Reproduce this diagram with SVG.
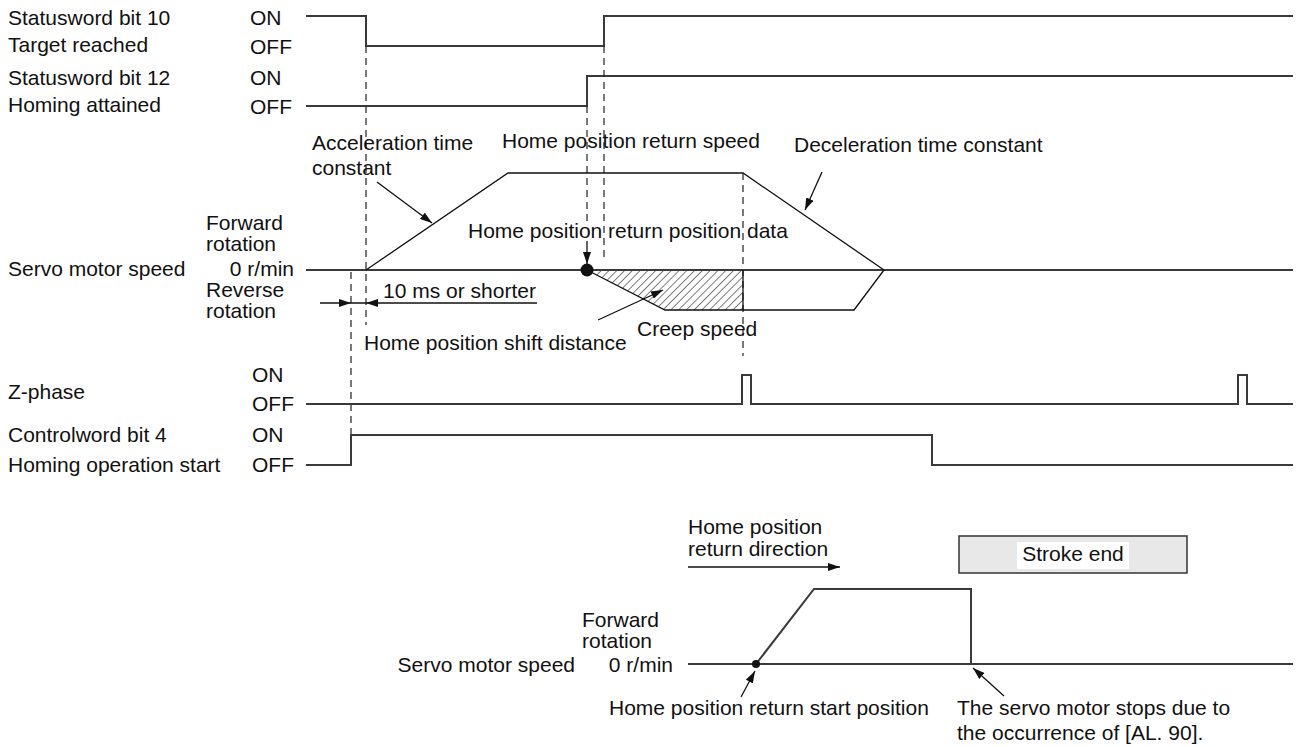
<svg xmlns="http://www.w3.org/2000/svg" width="1296" height="747" viewBox="0 0 1296 747">
<style>
text{font-family:"Liberation Sans",Arial,sans-serif;font-size:21px;fill:#111}
.sig{fill:none;stroke:#3a3a3a;stroke-width:2}
.dash{fill:none;stroke:#222;stroke-width:1.2;stroke-dasharray:7 5}
.ln{fill:none;stroke:#111;stroke-width:1.3}
.arr{fill:none;stroke:#111;stroke-width:1.3;marker-end:url(#ah)}
.end{text-anchor:end}
</style>
<defs>
<marker id="ah" viewBox="0 0 12 8" refX="12" refY="4" markerWidth="12" markerHeight="8" markerUnits="userSpaceOnUse" orient="auto"><path d="M0,0 L12,4 L0,8 Z" fill="#111"/></marker>
<pattern id="hatch" patternUnits="userSpaceOnUse" width="5.5" height="5.5" patternTransform="rotate(45)"><line x1="0" y1="0" x2="0" y2="5.5" stroke="#111" stroke-width="1.1"/></pattern>
</defs>
<rect width="1296" height="747" fill="#fff"/>

<g id="sw10">
<text x="8" y="25">Statusword bit 10</text>
<text x="8" y="52">Target reached</text>
<text x="250" y="25">ON</text>
<text x="250" y="54">OFF</text>
<path class="sig" d="M306,16 H366 V46 H604 V16 H1293"/>
</g>

<g id="sw12">
<text x="8" y="85">Statusword bit 12</text>
<text x="8" y="112">Homing attained</text>
<text x="250" y="85">ON</text>
<text x="250" y="114">OFF</text>
<path class="sig" d="M306,106 H587 V76 H1293"/>
</g>

<g id="guides">
<line class="dash" x1="366" y1="46" x2="366" y2="325"/>
<line class="dash" x1="604" y1="46" x2="604" y2="262"/>
<line class="dash" x1="587" y1="106" x2="587" y2="222"/>
<line class="dash" x1="743" y1="173" x2="743" y2="356"/>
<line class="dash" x1="351" y1="272" x2="351" y2="435"/>
</g>

<g id="speed">
<text x="8" y="276">Servo motor speed</text>
<text x="206" y="230">Forward</text>
<text x="206" y="251">rotation</text>
<text class="end" x="294" y="276">0 r/min</text>
<text x="206" y="297">Reverse</text>
<text x="206" y="318">rotation</text>
<polygon points="587,270 665,310 743,310 743,270" fill="url(#hatch)"/>
<line class="sig" x1="306" y1="270" x2="1293" y2="270"/>
<path class="ln" d="M366,270 L508,173 H743 L884,270"/>
<path class="ln" d="M587,270 L665,310 H854 L884,270"/>
<line class="ln" x1="743" y1="270" x2="743" y2="310"/>
<circle cx="587" cy="270" r="6.5" fill="#111"/>
<text x="312" y="150">Acceleration time</text>
<text x="312" y="175">constant</text>
<text x="502" y="148">Home position return speed</text>
<text x="794" y="152">Deceleration time constant</text>
<text x="468" y="238">Home position return position data</text>
<text x="383" y="298">10 ms or shorter</text>
<text x="364" y="350">Home position shift distance</text>
<text x="637" y="336">Creep speed</text>
</g>

<g id="zphase">
<text x="8" y="399">Z-phase</text>
<text x="252" y="382">ON</text>
<text x="252" y="411">OFF</text>
<path class="sig" d="M306,404 H742 V375 H751 V404 H1238 V375 H1247 V404 H1293"/>
</g>

<g id="cw4">
<text x="8" y="442">Controlword bit 4</text>
<text x="8" y="472">Homing operation start</text>
<text x="252" y="442">ON</text>
<text x="252" y="472">OFF</text>
<path class="sig" d="M306,465 H351 V435 H932 V465 H1293"/>
</g>

<g id="bottom">
<text x="688" y="534">Home position</text>
<text x="688" y="556">return direction</text>
<rect x="959" y="536" width="228" height="37" fill="#e8e8e8" stroke="#333" stroke-width="1.5"/>
<rect x="1017" y="542" width="112" height="27" fill="#fff"/>
<text x="1073" y="561" text-anchor="middle">Stroke end</text>
<text class="end" x="575" y="672">Servo motor speed</text>
<text x="582" y="627">Forward</text>
<text x="582" y="648">rotation</text>
<text class="end" x="673" y="672">0 r/min</text>
<line class="sig" x1="688" y1="664" x2="1293" y2="664"/>
<path class="sig" d="M756,664 L814,589 H971 V664"/>
<circle cx="756" cy="664" r="4" fill="#111"/>
<text x="609" y="715">Home position return start position</text>
<text x="957" y="715">The servo motor stops due to</text>
<text x="957" y="740">the occurrence of [AL. 90].</text>
</g>

<g id="connectors">
<line class="arr" x1="377" y1="182" x2="432" y2="223"/>
<line class="arr" x1="822" y1="172" x2="805" y2="210"/>
<line class="arr" x1="598" y1="320" x2="663" y2="290"/>
<line class="arr" x1="587" y1="241" x2="587" y2="264"/>
<line class="ln" x1="320" y1="303" x2="537" y2="303"/>
<path d="M351,303 L339,299 L339,307 Z" fill="#111"/>
<path d="M366,303 L378,299 L378,307 Z" fill="#111"/>
<line class="arr" x1="688" y1="567" x2="840" y2="567"/>
<line class="arr" x1="741" y1="697" x2="755" y2="671"/>
<line class="arr" x1="1004" y1="696" x2="973" y2="668"/>
</g>
</svg>
